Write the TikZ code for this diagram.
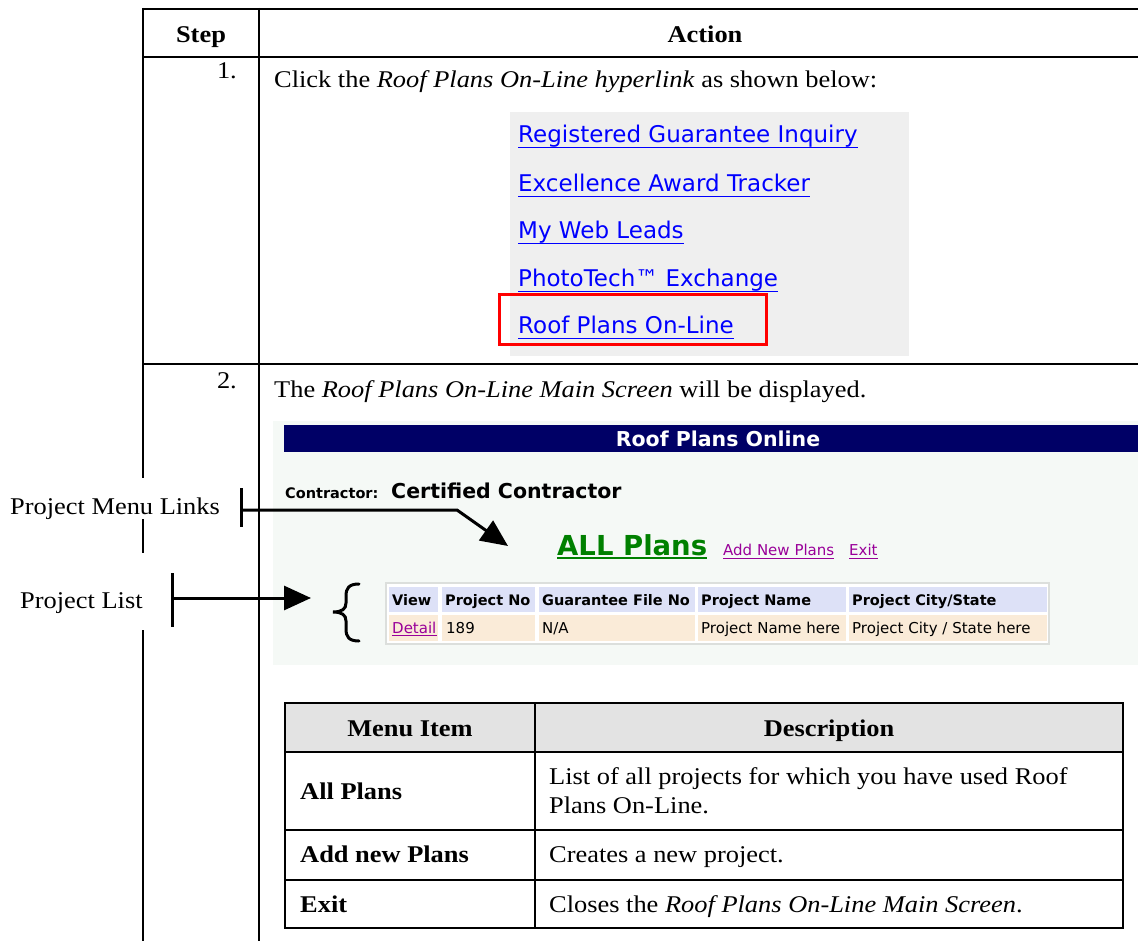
\documentclass[tikz,border=0pt]{standalone}
\usepackage{fontspec}
\setmainfont{Liberation Serif}[FakeStretch=1.1]
\newfontfamily\web{DejaVu Sans}
\usetikzlibrary{arrows.meta}
\newcommand{\fsz}[1]{\fontsize{#1pt}{#1pt}\selectfont}
\definecolor{panelgray}{HTML}{EFEFEF}
\definecolor{scrbg}{HTML}{F5F9F6}
\definecolor{navy}{HTML}{000066}
\definecolor{webgreen}{HTML}{008000}
\definecolor{webpurple}{HTML}{990099}
\definecolor{linkblue}{HTML}{0000FF}
\definecolor{thead}{HTML}{DDE1F7}
\definecolor{tdata}{HTML}{FAEBD8}
\definecolor{tborder}{HTML}{DCDFDC}
\definecolor{mhead}{HTML}{E3E3E3}
\tikzset{
  tline/.style={line width=2pt, black},
  doc/.style={inner sep=0pt, font=\fsz{24}, anchor=base west},
  docb/.style={inner sep=0pt, font=\fsz{24}\bfseries, anchor=base west},
  weblink/.style={inner sep=0pt, font=\web\fsz{23}, text=linkblue, anchor=base west},
  cellh/.style={inner sep=0pt, font=\web\fsz{14.5}\bfseries, anchor=base west},
  celld/.style={inner sep=0pt, font=\web\fsz{15}, anchor=base west},
  callout/.style={line width=3pt, -{Triangle[length=27pt,width=24pt]}},
  calbar/.style={line width=3pt},
  lbl/.style={inner sep=0pt, font=\fsz{24}, anchor=base west}
}
\begin{document}
\begin{tikzpicture}[x=1pt,y=-1pt]
\useasboundingbox (0,0) rectangle (1138,941);
% ---------- outer table ----------
\draw[tline] (143,9) -- (1138,9);
\draw[tline] (143,57) -- (1138,57);
\draw[tline] (143,364) -- (1138,364);
\draw[tline] (143,8) -- (143,478);
\draw[tline] (143,519) -- (143,553);
\draw[tline] (143,630) -- (143,941);
\draw[tline] (259,8) -- (259,941);
\node[docb, anchor=base] (hstep) at (201,43) {Step};
\node[docb, anchor=base] (hact) at (705,43) {Action};
\node[doc, anchor=base east] (s1) at (237,79) {1.};
\node[doc] (t1) at (274,88) {Click the \textit{Roof Plans On-Line hyperlink} as shown below:};
\node[doc, anchor=base east] (s2) at (237,388) {2.};
\node[doc] (t2) at (274,397) {The \textit{Roof Plans On-Line Main Screen} will be displayed.};
% ---------- link panel ----------
\fill[panelgray] (510,112) rectangle (909,356);
\node[weblink] (l1) at (518,143) {Registered Guarantee Inquiry};
\node[weblink] (l2) at (518,192) {Excellence Award Tracker};
\node[weblink] (l3) at (518,239) {My Web Leads};
\node[weblink] (l4) at (518,287) {PhotoTech™ Exchange};
\node[weblink] (l5) at (518,334) {Roof Plans On-Line};
\foreach \n in {l1,l2,l3,l4,l5}
  \draw[linkblue, line width=1.3pt] ([yshift=-4.5pt]\n.base west) -- ([yshift=-4.5pt]\n.base east);
\draw[red, line width=3pt] (499,295) rectangle (766,345);
% ---------- screenshot ----------
\fill[scrbg] (273,421) rectangle (1138,665);
\fill[navy] (284,425) rectangle (1138,452);
\node[inner sep=0pt, font=\web\fsz{20.5}\bfseries, text=white, anchor=base] (bar) at (718,446) {Roof Plans Online};
\node[inner sep=0pt, font=\web\fsz{14.5}\bfseries, anchor=base west] (contr) at (285,498) {Contractor:};
\node[inner sep=0pt, font=\web\fsz{20.5}\bfseries, anchor=base west] (cc) at (391,498) {Certified Contractor};
\node[inner sep=0pt, font=\web\fsz{27.5}\bfseries, text=webgreen, anchor=base west] (allp) at (557,555) {ALL Plans};
\draw[webgreen, line width=2pt] ([yshift=-3pt]allp.base west) -- ([yshift=-3pt]allp.base east);
\node[inner sep=0pt, font=\web\fsz{15}, text=webpurple, anchor=base west] (addp) at (723,555) {Add New Plans};
\draw[webpurple, line width=1pt] ([yshift=-3pt]addp.base west) -- ([yshift=-3pt]addp.base east);
\node[inner sep=0pt, font=\web\fsz{15}, text=webpurple, anchor=base west] (exitl) at (849,555) {Exit};
\draw[webpurple, line width=1pt] ([yshift=-3pt]exitl.base west) -- ([yshift=-3pt]exitl.base east);
% inner table
\fill[tborder] (385,582) rectangle (1050,645);
\fill[white] (387,584) rectangle (1048,643);
\foreach \a/\b in {389/438, 442/535, 539/695, 698/846, 849/1047}{
  \fill[thead] (\a,587) rectangle (\b,612);
  \fill[tdata] (\a,615) rectangle (\b,641);
}
\node[cellh] (h1) at (392,605) {View};
\node[cellh] (h2) at (445,605) {Project No};
\node[cellh] (h3) at (542,605) {Guarantee File No};
\node[cellh] (h4) at (701,605) {Project Name};
\node[cellh] (h5) at (852,605) {Project City/State};
\node[celld, text=webpurple] (d1) at (392,633) {Detail};
\draw[webpurple, line width=0.8pt] ([yshift=-2.5pt]d1.base west) -- ([yshift=-2.5pt]d1.base east);
\node[celld] (d2) at (446,633) {189};
\node[celld] (d3) at (542,633) {N/A};
\node[celld] (d4) at (701,633) {Project Name here};
\node[celld] (d5) at (852,633) {Project City / State here};
% brace
\draw[line width=3pt, line cap=round] (359,584) .. controls (349,584) and (346,588) .. (346,596) -- (346,603) .. controls (346,609) and (342,612) .. (333,612) .. controls (342,612) and (346,615) .. (346,621) -- (346,629) .. controls (346,637) and (349,641) .. (359,641);
% ---------- callouts ----------
\node[lbl] (pml) at (10,514) {Project Menu Links};
\node[lbl] (pl) at (20,608) {Project List};
\draw[calbar] (241,488) -- (241,527);
\coordinate (pmlA) at (241,510);
\coordinate (pmlB) at (457,510);
\coordinate (pmlC) at (508,546);
\draw[callout] (pmlA) -- (pmlB) -- (pmlC);
\draw[calbar] (172,573) -- (172,627);
\coordinate (plA) at (172,598);
\coordinate (plB) at (311,598);
\draw[callout] (plA) -- (plB);
% ---------- menu table ----------
\fill[mhead] (285,703) rectangle (1123,752);
\draw[tline] (285,703) rectangle (1123,928);
\draw[tline] (535,703) -- (535,928);
\draw[tline] (285,752) -- (1123,752);
\draw[tline] (285,830) -- (1123,830);
\draw[tline] (285,880) -- (1123,880);
\node[docb, anchor=base] (mh1) at (410,736) {Menu Item};
\node[docb, anchor=base] (mh2) at (829,736) {Description};
\node[docb] (m1) at (300,799) {All Plans};
\node[doc] (m1a) at (549,784) {List of all projects for which you have used Roof};
\node[doc] (m1b) at (549,813) {Plans On-Line.};
\node[docb] (m2) at (300,862) {Add new Plans};
\node[doc] (m2d) at (549,862) {Creates a new project.};
\node[docb] (m3) at (300,912) {Exit};
\node[doc] (m3d) at (549,912) {Closes the \textit{Roof Plans On-Line Main Screen}.};
\end{tikzpicture}
\end{document}
